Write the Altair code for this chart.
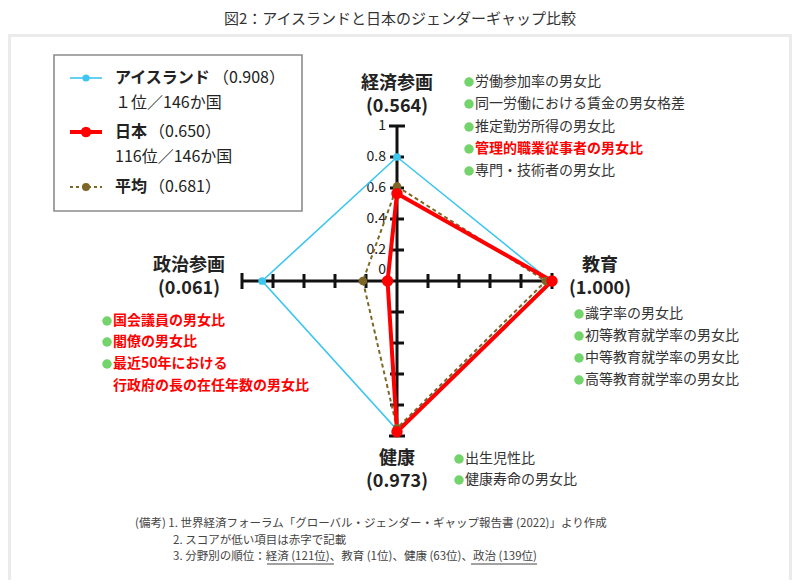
import altair as alt
import pandas as pd

FONT = "Noto Sans CJK JP"

# ---------------- data ----------------
categories = ["経済参画", "教育", "健康", "政治参画"]
category_scores = ["(0.564)", "(1.000)", "(0.973)", "(0.061)"]
series_names = ["アイスランド", "日本", "平均"]
iceland_values = [0.80, 0.99, 0.96, 0.87]
japan_values = [0.564, 1.000, 0.973, 0.061]
average_values = [0.61, 0.96, 0.95, 0.22]
tick_values = [0.2, 0.4, 0.6, 0.8, 1.0]
tick_labels = ["0.2", "0.4", "0.6", "0.8", "1"]
legend_scores = ["（0.908）", "（0.650）", "（0.681）"]
legend_ranks = ["１位／146か国", "116位／146か国"]
econ_items = ["労働参加率の男女比", "同一労働における賃金の男女格差", "推定勤労所得の男女比",
              "管理的職業従事者の男女比", "専門・技術者の男女比"]
econ_low = [False, False, False, True, False]
edu_items = ["識字率の男女比", "初等教育就学率の男女比", "中等教育就学率の男女比", "高等教育就学率の男女比"]
health_items = ["出生児性比", "健康寿命の男女比"]
politics_items = ["国会議員の男女比", "閣僚の男女比", "最近50年における", "行政府の長の在任年数の男女比"]
title_text = "図2：アイスランドと日本のジェンダーギャップ比較"
notes = ["(備考) 1. 世界経済フォーラム「グローバル・ジェンダー・ギャップ報告書 (2022)」より作成",
         "2. スコアが低い項目は赤字で記載",
         "3. 分野別の順位：経済 (121位)、教育 (1位)、健康 (63位)、政治 (139位)"]

# ---------------- layout ----------------
W, H = 784, 572
CX, CY, R = 389, 273, 155          # centre of radar in svg px, unit radius in px
XDOM = [-CX / R, (W - CX) / R]
YDOM = [-(H - CY) / R, CY / R]
dir_x = [0, 1, 0, -1]
dir_y = [1, 0, -1, 0]

CYAN = "#3cc6f0"
RED = "#ff0000"
OLIVE = "#7d6726"
GREEN = "#72d46a"
DARK = "#222222"


def X(px):  # page px -> data units
    return (px - 8 - CX) / R


def Y(py):
    return (CY - (py - 8)) / R


xs = alt.Scale(domain=XDOM, nice=False, zero=False)
ys = alt.Scale(domain=YDOM, nice=False, zero=False)


def xq(f):
    return alt.X(f, type="quantitative", scale=xs, axis=None)


def yq(f):
    return alt.Y(f, type="quantitative", scale=ys, axis=None)


layers = []

# frame
frame = pd.DataFrame([
    dict(x=X(8), x2=X(792), y=Y(34), y2=Y(580), c="#ebebeb"),
    dict(x=X(11), x2=X(789), y=Y(37), y2=Y(580), c="#ffffff"),
])
layers.append(alt.Chart(frame).mark_rect().encode(
    x=xq("x"), x2="x2:Q", y=yq("y"), y2="y2:Q", color=alt.Color("c:N", scale=None)))

# legend box
lbox = pd.DataFrame([dict(x=X(54), x2=X(302), y=Y(55), y2=Y(211))])
layers.append(alt.Chart(lbox).mark_rect(fill="white", stroke="#8c8c8c", strokeWidth=1.6).encode(
    x=xq("x"), x2="x2:Q", y=yq("y"), y2="y2:Q"))

# axes
axes_df = pd.DataFrame([dict(x=0, x2=0, y=-1, y2=1), dict(x=-1, x2=1, y=0, y2=0)])
ticks = []
for t in tick_values:
    d = (8 if t == 1.0 else 7) / R
    for s in (1, -1):
        ticks.append(dict(x=-d, x2=d, y=s * t, y2=s * t))
        ticks.append(dict(x=s * t, x2=s * t, y=-d, y2=d))
ticks_df = pd.DataFrame(ticks)
for df in (axes_df, ticks_df):
    layers.append(alt.Chart(df).mark_rule(color="#111111", strokeWidth=3).encode(
        x=xq("x"), x2="x2:Q", y=yq("y"), y2="y2:Q"))

# tick labels
tl = pd.DataFrame(dict(text=tick_labels + ["0"], x=[X(386)] * 6, y=tick_values + [Y(270)]))
layers.append(alt.Chart(tl).mark_text(font=FONT, fontSize=14, align="right", baseline="middle",
                                      color=DARK).encode(x=xq("x"), y=yq("y"), text="text:N"))

# radar data
rows = []
for s, vals in zip(series_names, [iceland_values, japan_values, average_values]):
    for i in range(5):
        k = i % 4
        rows.append(dict(series=s, order=i, value=vals[k], dx=dir_x[k], dy=dir_y[k]))
radar = pd.DataFrame(rows)

styles = {
    "アイスランド": dict(color=CYAN, width=1.6, dash=None, size=60),
    "平均": dict(color=OLIVE, width=2, dash=[4, 3], size=75),
    "日本": dict(color=RED, width=4, dash=None, size=130),
}
for s in ["アイスランド", "平均", "日本"]:
    st = styles[s]
    base = alt.Chart(radar).transform_filter(alt.datum.series == s).transform_calculate(
        px="datum.value * datum.dx", py="datum.value * datum.dy")
    kw = dict(color=st["color"], strokeWidth=st["width"], strokeJoin="miter")
    if st["dash"]:
        kw["strokeDash"] = st["dash"]
    layers.append(base.mark_line(**kw).encode(x=xq("px"), y=yq("py"), order="order:Q"))
for s in ["アイスランド", "平均", "日本"]:
    st = styles[s]
    base = alt.Chart(radar).transform_filter((alt.datum.series == s) & (alt.datum.order < 4)).transform_calculate(
        px="datum.value * datum.dx", py="datum.value * datum.dy")
    layers.append(base.mark_circle(color=st["color"], size=st["size"], opacity=1).encode(
        x=xq("px"), y=yq("py")))

# legend samples
leg_y = {"アイスランド": 78, "日本": 132, "平均": 187}
for s in series_names:
    st = styles[s]
    ld = pd.DataFrame([dict(x=X(70), x2=X(102), y=Y(leg_y[s]), xp=X(86))])
    kw = dict(color=st["color"], strokeWidth=st["width"] if s != "平均" else 2)
    if s == "平均":
        kw["strokeDash"] = [3, 3]
    layers.append(alt.Chart(ld).mark_rule(**kw).encode(x=xq("x"), x2="x2:Q", y=yq("y")))
    layers.append(alt.Chart(ld).mark_circle(color=st["color"], size=st["size"] * 0.85, opacity=1).encode(
        x=xq("xp"), y=yq("y")))

# bullets
bul = []
for i, y in enumerate([82, 104, 127, 149, 171]):
    bul.append(dict(x=X(469), y=Y(y)))
for y in [314, 336, 358, 380]:
    bul.append(dict(x=X(579), y=Y(y)))
for y in [459, 480]:
    bul.append(dict(x=X(459), y=Y(y)))
for y in [321, 342, 364]:
    bul.append(dict(x=X(107), y=Y(y)))
layers.append(alt.Chart(pd.DataFrame(bul)).mark_circle(color=GREEN, size=90, opacity=1).encode(
    x=xq("x"), y=yq("y")))

# texts
reg, bold, center_bold, center_reg = [], [], [], []


def add(lst, text, px, py, size, color=DARK):
    lst.append(dict(text=text, x=X(px), y=Y(py), size=size, color=color))


add(center_reg, title_text, 400, 19, 15, "#333333")
for name, score, (px, py) in zip(categories, category_scores, [(397, 84), (600, 266), (397, 459), (189, 266)]):
    add(center_bold, name, px, py, 18)
    add(center_bold, score, px, py + 23, 18)

add(bold, series_names[0], 115, 78, 16)
add(reg, legend_scores[0], 213, 78, 16)
add(reg, legend_ranks[0], 115, 103, 16)
add(bold, series_names[1], 115, 132, 16)
add(reg, legend_scores[1], 149, 132, 16)
add(reg, legend_ranks[1], 115, 157, 16)
add(bold, series_names[2], 115, 187, 16)
add(reg, legend_scores[2], 149, 187, 16)

for item, low, y in zip(econ_items, econ_low, [82, 104, 127, 149, 171]):
    if low:
        add(bold, item, 475, y, 14, RED)
    else:
        add(reg, item, 475, y, 14, "#333333")
for item, y in zip(edu_items, [314, 336, 358, 380]):
    add(reg, item, 585, y, 14, "#333333")
for item, y in zip(health_items, [459, 480]):
    add(reg, item, 465, y, 14, "#333333")
for item, y in zip(politics_items, [321, 342, 364, 386]):
    add(bold, item, 113, y, 14, RED)

add(reg, notes[0], 135, 524, 11.5, "#444444")
add(reg, notes[1], 173, 541, 11.5, "#444444")
add(reg, notes[2], 173, 557, 11.5, "#444444")


def txt(lst, align, weight):
    return alt.Chart(pd.DataFrame(lst)).mark_text(font=FONT, align=align, baseline="middle",
                                                  fontWeight=weight).encode(
        x=xq("x"), y=yq("y"), text="text:N",
        color=alt.Color("color:N", scale=None), size=alt.Size("size:Q", scale=None))


layers.append(txt(reg, "left", "normal"))
layers.append(txt(bold, "left", "bold"))
layers.append(txt(center_bold, "center", "bold"))
layers.append(txt(center_reg, "center", "normal"))

# underlines in footnote
ul = pd.DataFrame([dict(x=X(267), x2=X(334), y=Y(564)), dict(x=X(471), x2=X(537), y=Y(564))])
layers.append(alt.Chart(ul).mark_rule(color="#444444", strokeWidth=1).encode(x=xq("x"), x2="x2:Q", y=yq("y")))

chart = alt.layer(*layers).properties(
    width=W, height=H, padding=0, autosize=alt.AutoSizeParams(type="none"),
    background="white").configure_view(stroke=None)

chart.save("out.html", embed_options={"renderer": "svg", "actions": False})
